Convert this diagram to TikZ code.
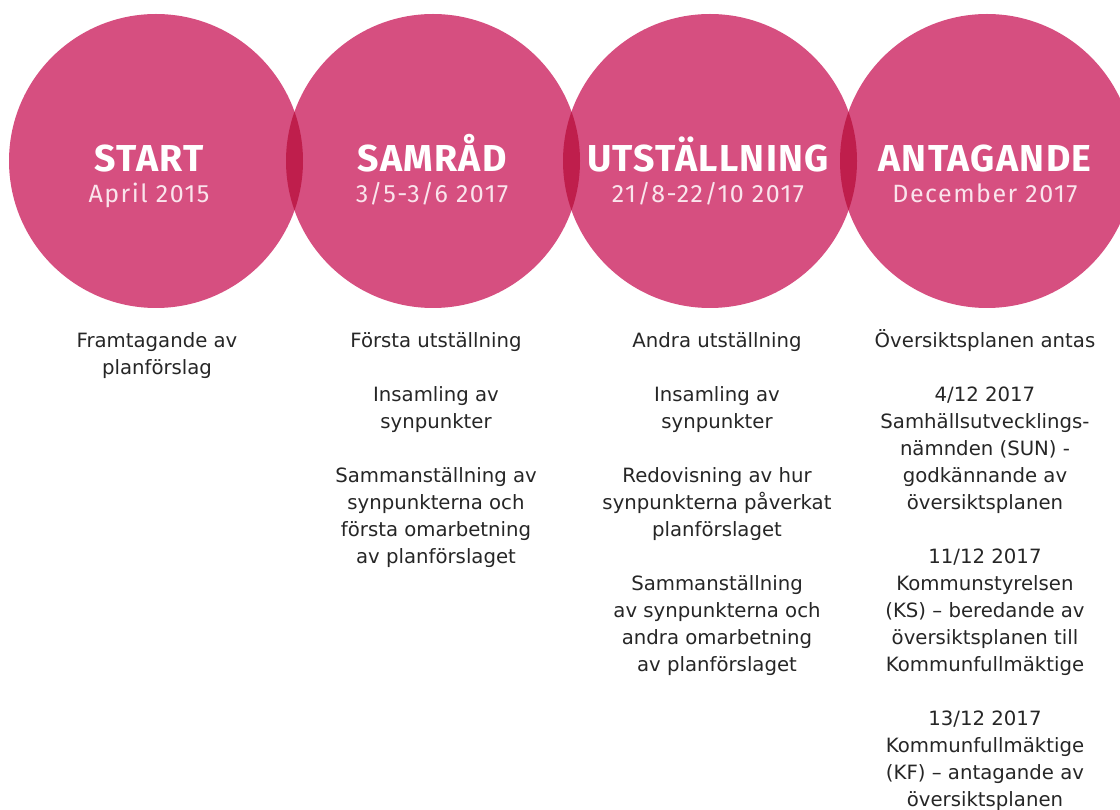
\documentclass[tikz,border=0pt]{standalone}
\usepackage{fontspec}
\setmainfont{DejaVu Sans}
\newfontfamily\titlefont{Fira Sans}
\newfontfamily\titlefontT{Fira Sans}[LetterSpace=3.5]
\newfontfamily\subfontT{Fira Sans}[LetterSpace=6]
\definecolor{pinkc}{RGB}{214,79,128}
\definecolor{lensc}{RGB}{191,30,76}
\definecolor{subc}{RGB}{250,228,236}
\tikzset{
  phase/.style={circle, fill=pinkc, inner sep=0pt, minimum size=294pt},
  titletext/.style={anchor=base, inner sep=0pt, text=white, font=\titlefontT\bfseries\fontsize{37.5}{40}\selectfont},
  subtext/.style={anchor=base, inner sep=0pt, text=subc, font=\subfontT\fontsize{25}{28}\selectfont},
  bodytext/.style={anchor=north, inner sep=0pt, align=center, text=black!85, font=\fontsize{19.7}{27}\selectfont}
}
\newcommand{\fl}{\rule{0pt}{20pt}}
\begin{document}
\begin{tikzpicture}[x=1pt,y=-1pt]
\useasboundingbox (0,0) rectangle (1120,810);
\clip (0,0) rectangle (1120,810);
\node[phase] (c1) at (156,161) {};
\node[phase] (c2) at (433,161) {};
\node[phase] (c3) at (710,161) {};
\node[phase] (c4) at (987,161) {};
\begin{scope}
  \clip (c1.center) circle (147pt);
  \fill[lensc] (c2.center) circle (147pt);
\end{scope}
\begin{scope}
  \clip (c2.center) circle (147pt);
  \fill[lensc] (c3.center) circle (147pt);
\end{scope}
\begin{scope}
  \clip (c3.center) circle (147pt);
  \fill[lensc] (c4.center) circle (147pt);
\end{scope}
\node[titletext] (t1) at (149,172) {START};
\node[titletext] (t2) at (432,172) {SAMRÅD};
\node[titletext] (t3) at (708,172) {UTSTÄLLNING};
\node[titletext] (t4) at (985,172) {ANTAGANDE};
\node[subtext] (s1) at (149,203) {April 2015};
\node[subtext] (s2) at (432,203) {3/5-3/6 2017};
\node[subtext] (s3) at (708,203) {21/8-22/10 2017};
\node[subtext] (s4) at (985,203) {December 2017};
\node[bodytext] (b1) at (157,327) {\fl Framtagande av\\planförslag};
\node[bodytext] (b2) at (436,327) {\fl Första utställning\\[27pt]Insamling av\\synpunkter\\[27pt]Sammanställning av\\synpunkterna och\\första omarbetning\\av planförslaget};
\node[bodytext] (b3) at (717,327) {\fl Andra utställning\\[27pt]Insamling av\\synpunkter\\[27pt]Redovisning av hur\\synpunkterna påverkat\\planförslaget\\[27pt]Sammanställning\\av synpunkterna och\\andra omarbetning\\av planförslaget};
\node[bodytext] (b4) at (985,327) {\fl Översiktsplanen antas\\[27pt]4/12 2017\\Samhällsutvecklings-\\nämnden (SUN) -\\godkännande av\\översiktsplanen\\[27pt]11/12 2017\\Kommunstyrelsen\\(KS) – beredande av\\översiktsplanen till\\Kommunfullmäktige\\[27pt]13/12 2017\\Kommunfullmäktige\\(KF) – antagande av\\översiktsplanen};
\end{tikzpicture}
\end{document}
